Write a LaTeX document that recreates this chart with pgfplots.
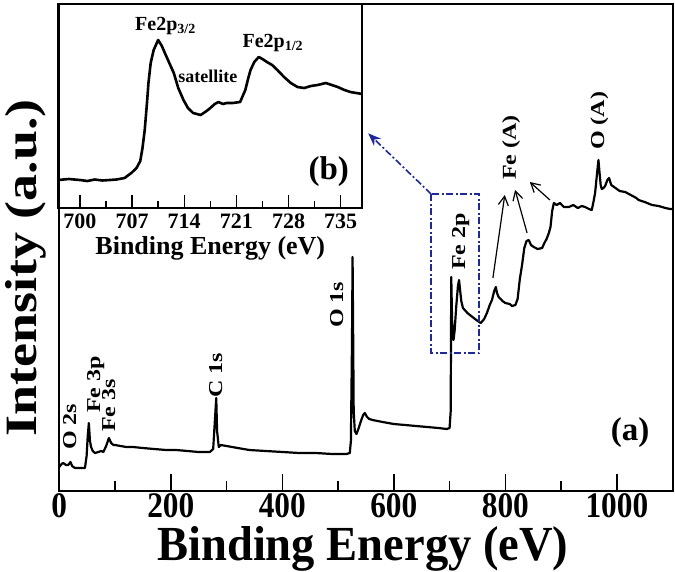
\documentclass[border=0pt]{standalone}
\usepackage{pgfplots}
\pgfplotsset{compat=1.18}
\usepackage{fontspec}
\setmainfont{Liberation Serif}
\newfontfamily\sqfont{Liberation Serif}[FakeStretch=0.87]
\newfontfamily\xlfont{Liberation Serif}[FakeStretch=0.95]
\usetikzlibrary{arrows.meta}
\definecolor{navy}{RGB}{30,40,150}
\newcommand{\rlab}[1]{\scalebox{1}[0.82]{\bfseries\fontsize{24}{24}\selectfont #1}}
\begin{document}
\begin{tikzpicture}
\useasboundingbox (0pt,0pt) rectangle (675pt,-571pt);
\begin{axis}[
 at={(59.3pt,-491pt)}, anchor=south west,
 width=613.3pt, height=487pt, scale only axis,
 xmin=0, xmax=1100, ymin=0, ymax=487,
 axis line style={line width=2pt},
 xtick={0,200,400,600,800,1000},
 xticklabels={0,200,400,600,800,1000},
 minor xtick={100,300,500,700,900},
 ytick=\empty,
 xtick pos=lower, tick align=inside,
 major tick length=17pt, minor tick length=10pt,
 every tick/.style={line width=1.6pt, black},
 xticklabel style={font=\sqfont\bfseries\fontsize{36}{36}\selectfont, anchor=base, inner sep=0pt, yshift=-26pt},
 clip=false,
]
\addplot[line width=2.2pt, black, line join=round] coordinates {
(0,24)(4,27)(7,28)(12,26)(16,26)(20,29)(23,25)(28,23)(35,23)(42,23)(46,23)
(49,35)(51,55)(53,68)(55,50)(57,44)(60,40)(64,38)(70,39)(75,40)(79,39)
(84,45)(89,53)(93,48)(97,46)(100,46)(110,45)(120,44)(132,44)(150,43)(170,42)
(192,41)(210,41)(230,40)(250,39)(270,39)(276,42)(279,70)(281.5,93)(283,60)
(286,44)(290,46)(300,45)(320,43)(341,41)(370,40)(401,39)(430,38)(460,38)
(490,37)(515,37)(521,38)(523,50)(525,150)(526,234)(527,160)(528,80)(530,60)
(533,57)(537,63)(541,70)(545,76)(548,78)(552,74)(556,72)(562,71)(580,69)
(600,67)(620,66)(640,65)(660,64)(680,63)(695,62)(700,63)(702,80)(703,214)
(704.5,170)(707,151)(709,160)(712,185)(715,205)(717,211)(719,200)(721,190)
(724,183)(732,178)(741,174)(748,171)(756,168)(762,172)(767,178)(772,186)
(776,191)(780,200)(783,204)(785,198)(788,194)(795,190)(800,188)(808,187)
(812,185)(818,186)(822,192)(826,212)(830,226)(834,243)(838,250)(842,251)
(846,246)(851,244)(858,242)(866,243)(870,248)(874,252)(878,258)(881,264)
(884,280)(887,288)(892,286)(898,288)(905,284)(914,284)(922,286)(930,283)
(937,285)(943,284)(950,282)(955,281)(958,289)(961,298)(964,315)(967,331)
(969,318)(971,306)(973,302)(976,303)(979,305)(983,311)(986,313)(990,306)
(995,304)(1000,302)(1005,300)(1015,299)(1025,296)(1035,293)(1039,291)
(1050,289)(1063,286)(1075,285)(1087,283)(1096,282)(1100,282)
};
\node[rotate=90, anchor=base west, inner sep=0pt] at (axis cs:30,41) {\rlab{O 2s}};
\node[rotate=90, anchor=base west, inner sep=0pt] at (axis cs:73,78) {\rlab{Fe 3p}};
\node[rotate=90, anchor=base west, inner sep=0pt] at (axis cs:100,59) {\rlab{Fe 3s}};
\node[rotate=90, anchor=base west, inner sep=0pt] at (axis cs:292,93) {\rlab{C 1s}};
\node[rotate=90, anchor=base west, inner sep=0pt] at (axis cs:509,163) {\rlab{O 1s}};
\node[rotate=90, anchor=base west, inner sep=0pt] at (axis cs:728,221) {\rlab{Fe 2p}};
\node[rotate=90, anchor=base west, inner sep=0pt] at (axis cs:819,311) {\rlab{Fe (A)}};
\node[rotate=90, anchor=base west, inner sep=0pt] at (axis cs:977,341) {\rlab{O (A)}};
\draw[line width=1.2pt, -{Straight Barb[length=9pt,width=10pt]}] (axis cs:777.7,213) -- (axis cs:799,296);
\draw[line width=1.2pt, -{Straight Barb[length=9pt,width=10pt]}] (axis cs:839,258) -- (axis cs:817.5,301);
\draw[line width=1.2pt, -{Straight Barb[length=9pt,width=10pt]}] (axis cs:880,291) -- (axis cs:844,309);
\draw[navy, line width=1.6pt, dash pattern=on 7pt off 2.5pt on 2pt off 2.5pt] (axis cs:666.9,297) rectangle (axis cs:753,138);
\draw[navy, line width=1.6pt, dash pattern=on 7pt off 2.5pt on 2pt off 2.5pt, -{Stealth[length=13pt,width=10pt]}] (axis cs:666.9,297) -- (axis cs:554,357.7);
\node[font=\bfseries\fontsize{33}{33}\selectfont] at (axis cs:1024,58) {(a)};
\node[anchor=base, inner sep=0pt, font=\xlfont\bfseries\fontsize{49}{49}\selectfont] at (rel axis cs:0.495,-0.1417) {Binding Energy (eV)};
\node[rotate=90, anchor=base west, inner sep=0pt] at (rel axis cs:-0.0364,0.111) {\scalebox{1}[0.83]{\bfseries\fontsize{54}{54}\selectfont Intensity (a.u.)}};
\end{axis}
\begin{axis}[
 at={(58.3pt,-4pt)}, anchor=north west,
 width=304pt, height=204pt, scale only axis,
 xmin=697.1, xmax=737.9, ymin=0, ymax=204,
 axis line style={line width=1.8pt},
 xtick={700,707,714,721,728,735},
 xticklabels={700,707,714,721,728,735},
 minor xtick={703.5,710.5,717.5,724.5,731.5},
 ytick=\empty,
 xtick pos=lower, tick align=inside,
 major tick length=13pt, minor tick length=7pt,
 every tick/.style={line width=1.4pt, black},
 xticklabel style={font=\bfseries\fontsize{22}{22}\selectfont, anchor=base, inner sep=0pt, yshift=-20pt},
 clip=false,
]
\addplot[line width=2.6pt, black, line join=round] coordinates {
(697.1,28)(698.5,29)(700,28)(701,27)(702,28.5)(703,27.5)(704,28)(704.9,28.5)
(706,30)(706.9,35)(707.6,40)(708.1,47)(708.4,60)(708.7,78)(709,105)(709.2,125)
(709.5,145)(709.9,158)(710.5,168)(711,162)(711.4,155)(712,145)(712.6,135)
(713.2,120)(713.9,108)(714.5,100)(715.2,95)(716.2,93)(717,97)(717.5,100)
(718.1,104)(718.6,106)(719.2,104)(719.7,105)(720.5,105)(721.5,106)(722.2,118)
(722.6,130)(722.9,138)(723.4,146)(724.0,151)(724.5,149)(725.1,146)(725.8,143)
(726.5,138)(727.4,131)(728.3,125)(729.2,121)(730.1,120)(731,122)(731.9,123)
(733.0,125)(733.8,123)(734.6,121)(735.5,118)(736.3,116)(737.1,115)(737.9,114)
};
\node[anchor=base west, inner sep=0pt, font=\bfseries\fontsize{20}{20}\selectfont] at (axis cs:707.4,178) {Fe2p\textsubscript{3/2}};
\node[anchor=base west, inner sep=0pt, font=\bfseries\fontsize{18}{18}\selectfont] at (axis cs:713.2,126) {satellite};
\node[anchor=base west, inner sep=0pt, font=\bfseries\fontsize{20}{20}\selectfont] at (axis cs:721.8,161) {Fe2p\textsubscript{1/2}};
\node[font=\bfseries\fontsize{33}{33}\selectfont] at (axis cs:733.4,36) {(b)};
\node[anchor=base, inner sep=0pt, font=\bfseries\fontsize{26}{26}\selectfont] at (rel axis cs:0.5,-0.228) {Binding Energy (eV)};
\end{axis}
\end{tikzpicture}
\end{document}
